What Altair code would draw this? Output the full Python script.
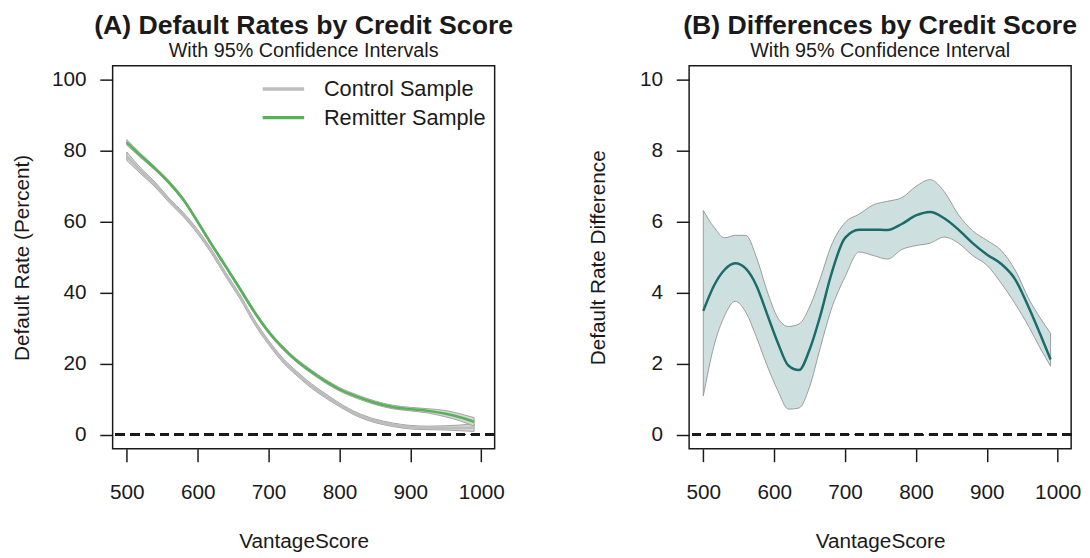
import altair as alt
import pandas as pd

FONT = "Liberation Sans"
INK = "#1a1a1a"

# ---------------- Panel A data ----------------
a_x = [500, 520, 540, 560, 580, 600, 620, 640, 660, 680, 700, 720, 740, 760,
       780, 800, 825, 850, 875, 900, 925, 950, 970, 990]
control = [78.5, 74.3, 70.5, 66.0, 62.0, 57.2, 51.5, 45.0, 38.8, 31.8, 26.0,
           21.0, 17.2, 13.8, 11.0, 8.4, 5.7, 3.9, 2.8, 2.1, 1.9, 1.9, 1.9, 2.0]
control_half = [1.2, 0.8, 0.7, 0.6, 0.6, 0.6, 0.6, 0.6, 0.6, 0.6, 0.6, 0.6,
                0.6, 0.6, 0.6, 0.5, 0.5, 0.5, 0.5, 0.5, 0.5, 0.6, 0.8, 1.1]
remitter = [82.4, 78.6, 75.0, 71.0, 66.2, 60.0, 53.5, 47.3, 41.0, 34.6, 29.0,
            24.5, 20.8, 17.8, 15.1, 12.8, 10.7, 9.0, 7.8, 7.2, 6.7, 5.9, 4.9, 3.6]
remitter_half = [0.8, 0.6, 0.5, 0.5, 0.5, 0.5, 0.5, 0.5, 0.5, 0.5, 0.5, 0.5,
                 0.5, 0.5, 0.5, 0.5, 0.5, 0.5, 0.5, 0.5, 0.6, 0.9, 1.0, 1.2]
series_names = ["Control Sample", "Remitter Sample"]
series_colors = ["#bdbdbd", "#55b355"]

# ---------------- Panel B data ----------------
b_x = [500, 515, 530, 545, 560, 575, 590, 605, 620, 635, 650, 665, 680, 700,
       720, 740, 760, 780, 800, 820, 840, 860, 880, 900, 920, 940, 960, 975, 990]
b_diff = [3.49, 4.20, 4.65, 4.83, 4.68, 4.20, 3.40, 2.60, 1.95, 1.82, 2.40,
          3.35, 4.48, 5.55, 5.78, 5.78, 5.77, 5.94, 6.18, 6.28, 6.10, 5.78,
          5.40, 5.08, 4.82, 4.38, 3.55, 2.85, 2.12]
b_upper = [6.32, 5.85, 5.55, 5.62, 5.62, 5.00, 4.05, 3.30, 3.05, 3.12, 3.60,
           4.40, 5.30, 5.98, 6.22, 6.48, 6.58, 6.68, 7.00, 7.19, 6.85, 6.20,
           5.75, 5.48, 5.20, 4.64, 3.80, 3.30, 2.86]
b_lower = [1.09, 2.50, 3.35, 3.76, 3.45, 2.75, 1.95, 1.25, 0.72, 0.75, 1.35,
           2.45, 3.50, 4.45, 5.15, 5.05, 4.95, 5.22, 5.33, 5.40, 5.57, 5.40,
           5.05, 4.78, 4.28, 3.69, 3.02, 2.45, 1.93]

x_ticks = [500, 600, 700, 800, 900, 1000]
a_y_ticks = [0, 20, 40, 60, 80, 100]
b_y_ticks = [0, 2, 4, 6, 8, 10]

# ---------------- Tables ----------------
rows = []
for name, vals, half in [(series_names[0], control, control_half),
                         (series_names[1], remitter, remitter_half)]:
    for x, v, h in zip(a_x, vals, half):
        rows.append({"x": x, "series": name, "value": v, "lo": v - h, "hi": v + h})
dfA = pd.DataFrame(rows)
dfB = pd.DataFrame({"x": b_x, "diff": b_diff, "lo": b_lower, "hi": b_upper})

W, H = 387, 388
x_scale = alt.Scale(domain=[480, 1019], nice=False, zero=False)


def x_axis():
    return alt.Axis(values=x_ticks, format="d", title="VantageScore", domain=False,
                    grid=False, tickSize=13, tickWidth=1.5, tickColor=INK,
                    labelFontSize=21, labelColor=INK, labelPadding=20,
                    labelFlush=False, titleFontSize=21, titleFontWeight="normal",
                    titleColor=INK, titlePadding=29, labelFont=FONT, titleFont=FONT)


def y_axis(ticks, title, tpad):
    return alt.Axis(values=ticks, format="d", title=title, domain=False, grid=False,
                    tickSize=13, tickWidth=1.5, tickColor=INK, labelFontSize=21,
                    labelColor=INK, labelPadding=14, labelFlush=False,
                    titleFontSize=21, titleFontWeight="normal", titleColor=INK,
                    titlePadding=tpad, labelFont=FONT, titleFont=FONT)


def panel_title(text, sub):
    return alt.TitleParams(text=text, subtitle=sub, fontSize=27,
                           fontWeight="bold", font=FONT, color=INK,
                           subtitleFontSize=20, subtitleFont=FONT,
                           subtitleColor=INK, subtitlePadding=1,
                           anchor="middle", offset=4)


# ---------------- Panel A ----------------
ya_scale = alt.Scale(domain=[-4, 104], nice=False, zero=False)
baseA = alt.Chart(dfA)
bandA = baseA.mark_area(fill="#d6d6d6", stroke="#a3a3a3", strokeWidth=1,
                        interpolate="monotone").encode(
    x=alt.X("x:Q", scale=x_scale, axis=x_axis()),
    y=alt.Y("lo:Q", scale=ya_scale,
            axis=y_axis(a_y_ticks, "Default Rate (Percent)", 19)),
    y2="hi:Q",
    detail="series:N",
)
linesA = baseA.mark_line(strokeWidth=2.5, interpolate="monotone").encode(
    x="x:Q",
    y="value:Q",
    color=alt.Color("series:N",
                    scale=alt.Scale(domain=series_names, range=series_colors),
                    legend=alt.Legend(title=None, orient="none", legendX=160.5,
                                      legendY=11, symbolType="M-2,0H2",
                                      symbolSize=441, symbolStrokeWidth=3.5,
                                      labelFontSize=22, labelFont=FONT,
                                      labelColor=INK, labelOffset=28.5,
                                      labelLimit=0, rowPadding=5, padding=0)),
)
zeroA = alt.Chart(dfA).mark_rule(strokeDash=[9, 6], strokeWidth=2, color=INK).encode(
    y=alt.datum(0)
)
panelA = alt.layer(bandA, linesA, zeroA).properties(
    width=W, height=H,
    title=panel_title("(A) Default Rates by Credit Score",
                      "With 95% Confidence Intervals"),
)

# ---------------- Panel B ----------------
yb_scale = alt.Scale(domain=[-0.4, 10.4], nice=False, zero=False)
baseB = alt.Chart(dfB)
bandB = baseB.mark_area(fill="#cde0df", stroke="#9a9a9a", strokeWidth=1,
                        interpolate="monotone").encode(
    x=alt.X("x:Q", scale=x_scale, axis=x_axis()),
    y=alt.Y("lo:Q", scale=yb_scale,
            axis=y_axis(b_y_ticks, "Default Rate Difference", 31)),
    y2="hi:Q",
)
lineB = baseB.mark_line(strokeWidth=2.5, color="#1c6b6b",
                        interpolate="monotone").encode(x="x:Q", y="diff:Q")
zeroB = alt.Chart(dfB).mark_rule(strokeDash=[9, 6], strokeWidth=2, color=INK).encode(
    y=alt.datum(0)
)
panelB = alt.layer(bandB, lineB, zeroB).properties(
    width=W, height=H,
    title=panel_title("(B) Differences by Credit Score",
                      "With 95% Confidence Interval"),
)

chart = alt.hconcat(panelA, panelB, spacing=73).properties(
    padding={"left": 3, "top": 0, "right": 0, "bottom": 0},
    background="white",
).configure_view(stroke=INK, strokeWidth=1.5).configure_concat(spacing=73)

chart.save("out.html", embed_options={"renderer": "svg", "actions": False})
